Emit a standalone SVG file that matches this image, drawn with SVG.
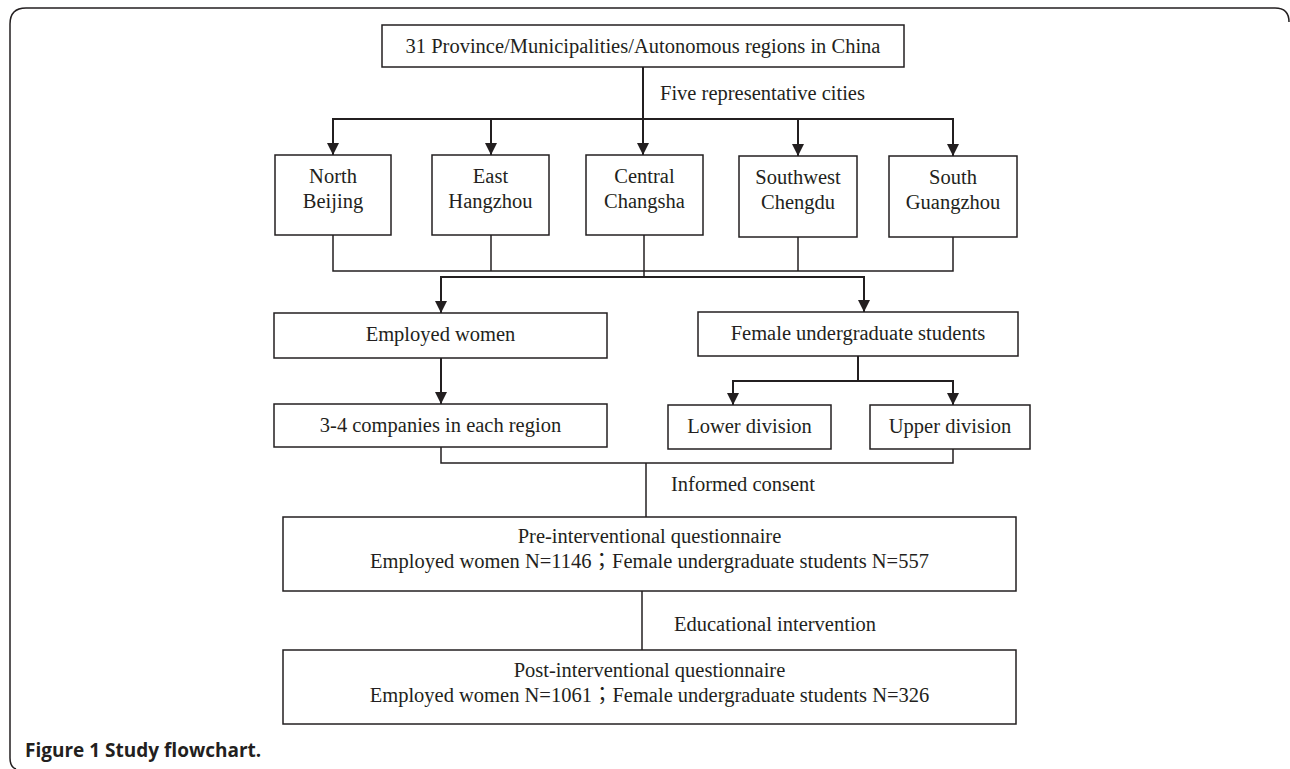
<svg xmlns="http://www.w3.org/2000/svg" width="1290" height="769" viewBox="0 0 1290 769">
<style>
.box{fill:#fff;stroke:#231f20;stroke-width:1.5}
.t{font-family:"Liberation Serif","Times New Roman",serif;font-size:20.5px;fill:#231f20;text-anchor:middle}
.l{font-family:"Liberation Serif","Times New Roman",serif;font-size:20.5px;fill:#231f20}
.cjk{font-family:"Liberation Serif","Noto Sans CJK TC",serif}
.c{fill:none;stroke:#231f20;stroke-width:1.5}
.a{fill:none;stroke:#231f20;stroke-width:2;marker-end:url(#arr)}
.a2{fill:none;stroke:#231f20;stroke-width:2}
.cap{font-family:"Open Sans","Noto Sans",sans-serif;font-weight:bold;font-size:19px;fill:#231f20}
</style>
<defs>
<marker id="arr" viewBox="0 0 12 12" markerUnits="userSpaceOnUse" markerWidth="12" markerHeight="12" refX="12" refY="6" orient="auto">
<path d="M0,0 L12,6 L0,12 z" fill="#231f20"/>
</marker>
</defs>
<rect width="1290" height="769" fill="#fff"/>
<path d="M1289,22 Q1289,8 1275,8 H26 Q10,8 10,24 V758 Q10,767 16,769" fill="none" stroke="#231f20" stroke-width="1.5"/>

<g id="connectors">
<path class="a" d="M643,67 V155"/>
<path class="a" d="M643,119 H333 V155"/>
<path class="a" d="M643,119 H953 V156"/>
<path class="a" d="M491,119 V155"/>
<path class="a" d="M798,119 V156"/>
<path class="c" d="M333,235 V271 H953 V237"/>
<path class="c" d="M491,235 V271"/>
<path class="c" d="M798,237 V271"/>
<path class="c" d="M644,235 V278"/>
<path class="a" d="M644,277 H441 V313"/>
<path class="a" d="M644,277 H864 V312"/>
<path class="a" d="M441,358 V404"/>
<path class="a2" d="M858,356 V381"/>
<path class="a" d="M858,381 H733 V405"/>
<path class="a" d="M858,381 H953 V405"/>
<path class="c" d="M441,447 V463 H953 V449"/>
<path class="c" d="M646,463 V517"/>
<path class="c" d="M642,591 V650"/>
<text class="l" x="660" y="100">Five representative cities</text>
<text class="l" x="671" y="491">Informed consent</text>
<text class="l" x="674" y="631">Educational intervention</text>
</g>

<g id="n-top">
<rect class="box" x="382" y="25" width="522" height="42"/>
<text class="t" x="643" y="53">31 Province/Municipalities/Autonomous regions in China</text>
</g>
<g id="n-north">
<rect class="box" x="275" y="155" width="116" height="80"/>
<text class="t" x="333" y="183">North</text>
<text class="t" x="333" y="208">Beijing</text>
</g>
<g id="n-east">
<rect class="box" x="432" y="155" width="117" height="80"/>
<text class="t" x="490.5" y="183">East</text>
<text class="t" x="490.5" y="208">Hangzhou</text>
</g>
<g id="n-central">
<rect class="box" x="586" y="155" width="117" height="80"/>
<text class="t" x="644.5" y="183">Central</text>
<text class="t" x="644.5" y="208">Changsha</text>
</g>
<g id="n-southwest">
<rect class="box" x="739" y="156" width="118" height="81"/>
<text class="t" x="798" y="184">Southwest</text>
<text class="t" x="798" y="209">Chengdu</text>
</g>
<g id="n-south">
<rect class="box" x="889" y="156" width="128" height="81"/>
<text class="t" x="953" y="184">South</text>
<text class="t" x="953" y="209">Guangzhou</text>
</g>
<g id="n-employed">
<rect class="box" x="274" y="313" width="333" height="45"/>
<text class="t" x="440.5" y="341">Employed women</text>
</g>
<g id="n-female">
<rect class="box" x="698" y="312" width="320" height="44"/>
<text class="t" x="858" y="340">Female undergraduate students</text>
</g>
<g id="n-companies">
<rect class="box" x="274" y="404" width="333" height="43"/>
<text class="t" x="440.5" y="432">3-4 companies in each region</text>
</g>
<g id="n-lower">
<rect class="box" x="668" y="405" width="163" height="44"/>
<text class="t" x="749.5" y="433">Lower division</text>
</g>
<g id="n-upper">
<rect class="box" x="870" y="405" width="160" height="44"/>
<text class="t" x="950" y="433">Upper division</text>
</g>
<g id="n-pre">
<rect class="box" x="283" y="517" width="733" height="74"/>
<text class="t" x="649.5" y="543">Pre-interventional questionnaire</text>
<text class="t cjk" x="649.5" y="568">Employed women N=1146；Female undergraduate students N=557</text>
</g>
<g id="n-post">
<rect class="box" x="283" y="650" width="733" height="74"/>
<text class="t" x="649.5" y="677">Post-interventional questionnaire</text>
<text class="t cjk" x="649.5" y="702">Employed women N=1061；Female undergraduate students N=326</text>
</g>
<text class="cap" x="25" y="757">Figure 1 Study flowchart.</text>
</svg>
